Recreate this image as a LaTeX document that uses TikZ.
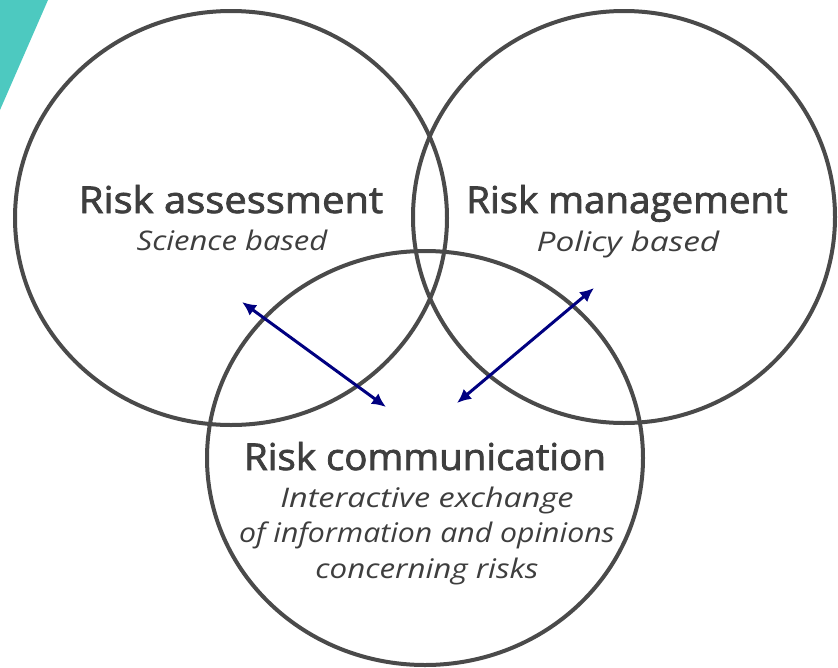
\documentclass[tikz,border=0pt]{standalone}
\usepackage{fontspec}
\setmainfont{Open Sans}
\newfontfamily\headfont{Open Sans}[BoldFont={Open Sans}, BoldFeatures={FakeBold=2}]
\usetikzlibrary{arrows.meta}
\definecolor{ringgray}{HTML}{4A4A4A}
\definecolor{textgray}{HTML}{3E3E3E}
\definecolor{tealband}{HTML}{4DC9C0}
\definecolor{arrownavy}{HTML}{000080}
\newcommand{\wide}[2]{\scalebox{#1}[1]{#2}}
\tikzset{
  ring/.style={draw=ringgray, line width=4pt},
  title/.style={text=textgray, font=\headfont\bfseries\fontsize{37}{40}\selectfont, inner sep=0pt, anchor=base},
  subtitle/.style={text=textgray, font=\fontsize{27}{36}\selectfont\itshape, inner sep=0pt, anchor=base},
  link/.style={draw=arrownavy, line width=3pt, {Latex[length=14pt,width=13pt]}-{Latex[length=14pt,width=13pt]}}
}
\begin{document}
\begin{tikzpicture}[x=1pt, y=-1pt]
\useasboundingbox (0,0) rectangle (838,667);
% corner accent
\fill[tealband] (0,0) -- (48,0) -- (0,110) -- cycle;
% the three overlapping areas
\draw[ring] (231,218) ellipse [x radius=216, y radius=207];
\draw[ring] (624,217) ellipse [x radius=211, y radius=206];
\draw[ring] (425,458) ellipse [x radius=218, y radius=207];
% labels
\node[title] (assess) at (231,213) {\wide{1.08}{Risk assessment}};
\node[subtitle] (science) at (232,250) {\wide{1.15}{Science based}};
\node[title] (manage) at (627,213) {\wide{1.04}{Risk management}};
\node[subtitle] (policy) at (628,251) {\wide{1.24}{Policy based}};
\node[title] (comm) at (425,470) {\wide{1.04}{Risk communication}};
\node[subtitle] (commsuba) at (427,507) {\wide{1.2}{Interactive exchange}};
\node[subtitle] (commsubb) at (427,542) {\wide{1.12}{of information and opinions}};
\node[subtitle] (commsubc) at (427,578) {\wide{1.16}{concerning risks}};
% exchanges between the areas
\coordinate (la) at (242,302);
\coordinate (lb) at (386,407);
\coordinate (ra) at (457,403);
\coordinate (rb) at (594,288);
\draw[link] (la) -- (lb);
\draw[link] (ra) -- (rb);
\end{tikzpicture}
\end{document}
